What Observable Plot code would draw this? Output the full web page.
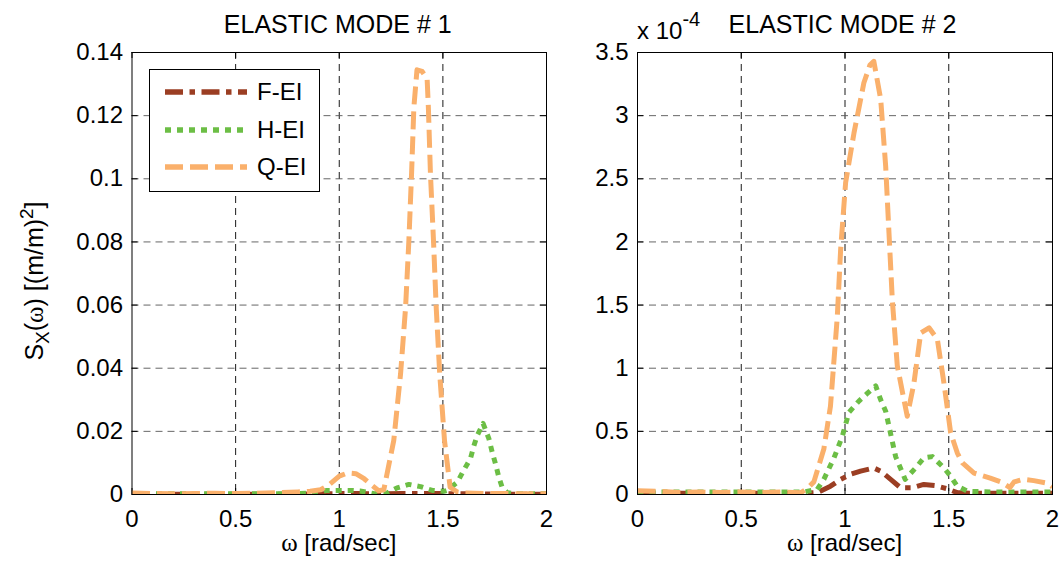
<!DOCTYPE html>
<html><head><meta charset="utf-8">
<script src="https://cdn.jsdelivr.net/npm/d3@7"></script>
<script src="https://cdn.jsdelivr.net/npm/@observablehq/plot@0.6"></script>
<style>
body{margin:0;background:#fff;}
#chart{position:relative;width:1062px;height:571px;overflow:hidden;background:#fff;}
#chart svg{position:absolute;top:0;max-width:none;}
</style></head><body><div id="chart"></div>
<script>
// ---------- data ----------
const seriesNames = ["F-EI", "H-EI", "Q-EI"];
const seriesColors = ["#9b3e23", "#6cbe45", "#fab06b"];
const seriesDashes = ["18,6.5,5.5,6.5", "6,6", "18,7"];

const xTicks = [0, 0.5, 1, 1.5, 2];
const xTickLabels = ["0", "0.5", "1", "1.5", "2"];
const y1Ticks = [0, 0.02, 0.04, 0.06, 0.08, 0.1, 0.12, 0.14];
const y1TickLabels = ["0", "0.02", "0.04", "0.06", "0.08", "0.1", "0.12", "0.14"];
const y2Ticks = [0, 0.5, 1, 1.5, 2, 2.5, 3, 3.5];
const y2TickLabels = ["0", "0.5", "1", "1.5", "2", "2.5", "3", "3.5"];
const titles = ["ELASTIC MODE # 1", "ELASTIC MODE # 2"];
const xLabel = "[rad/sec]";
const exponentText = ["x 10", "-4"];

// Mode 1 (S_X in (m/m)^2)
const m1F_w = [0, 0.2, 0.4, 0.6, 0.8, 0.9, 1.0, 1.1, 1.2, 1.3, 1.4, 1.5, 1.6, 1.7, 1.8, 1.9, 2.0];
const m1F_s = [0.0001, 0.0001, 0.0001, 0.0001, 0.0001, 0.0002, 0.0003, 0.0003, 0.0002, 0.0003, 0.0003, 0.0003, 0.0002, 0.0002, 0.0001, 0.0001, 0.0001];

const m1H_w = [0, 0.2, 0.4, 0.6, 0.8, 0.9, 0.94, 1.0, 1.054, 1.1, 1.166, 1.223, 1.279, 1.336, 1.392, 1.449, 1.505, 1.52, 1.57, 1.6, 1.633, 1.65, 1.666, 1.694, 1.722, 1.738, 1.754, 1.77, 1.786, 1.81, 1.85, 1.9, 2.0];
const m1H_s = [0.0002, 0.0002, 0.0002, 0.0002, 0.0003, 0.0006, 0.0013, 0.0013, 0.0013, 0.0011, 0.0003, 0.0002, 0.0021, 0.0032, 0.0025, 0.0013, 0.001, 0.0013, 0.0039, 0.0076, 0.0114, 0.0155, 0.0187, 0.0225, 0.0177, 0.0134, 0.0097, 0.0055, 0.0023, 0.0006, 0.0002, 0.0002, 0.0002];

const m1Q_w = [0, 0.1, 0.2, 0.3, 0.4, 0.5, 0.6, 0.7, 0.8, 0.86, 0.91, 0.95, 1.0, 1.04, 1.08, 1.12, 1.16, 1.19, 1.215, 1.263, 1.296, 1.32, 1.336, 1.349, 1.36, 1.375, 1.40, 1.424, 1.43, 1.44, 1.455, 1.468, 1.485, 1.508, 1.535, 1.57, 1.6, 1.7, 1.8, 1.9, 2.0];
const m1Q_s = [0.0005, 0.0003, 0.0002, 0.0003, 0.0004, 0.0003, 0.0004, 0.0006, 0.0008, 0.001, 0.0015, 0.003, 0.0058, 0.0068, 0.0066, 0.005, 0.0028, 0.0012, 0.0015, 0.0171, 0.0383, 0.0592, 0.0805, 0.1017, 0.1226, 0.1345, 0.134, 0.1317, 0.1227, 0.1016, 0.08, 0.059, 0.038, 0.017, 0.0023, 0.0008, 0.0005, 0.0003, 0.0003, 0.0002, 0.0002];

// Mode 2 (S_X in units of 1e-4 (m/m)^2)
const m2F_w = [0, 0.2, 0.4, 0.6, 0.8, 0.866, 0.93, 0.979, 1.027, 1.075, 1.139, 1.172, 1.22, 1.268, 1.324, 1.38, 1.436, 1.493, 1.541, 1.6, 1.7, 1.8, 1.9, 2.0];
const m2F_s = [0.01, 0.01, 0.01, 0.01, 0.01, 0.015, 0.066, 0.12, 0.16, 0.185, 0.21, 0.185, 0.12, 0.053, 0.053, 0.08, 0.07, 0.045, 0.015, 0.01, 0.01, 0.01, 0.01, 0.01];

const m2H_w = [0, 0.2, 0.4, 0.6, 0.8, 0.866, 0.898, 0.947, 0.987, 1.019, 1.067, 1.107, 1.148, 1.172, 1.196, 1.212, 1.244, 1.29, 1.34, 1.38, 1.421, 1.477, 1.509, 1.541, 1.59, 1.7, 1.8, 1.9, 2.0];
const m2H_s = [0.02, 0.02, 0.02, 0.02, 0.02, 0.04, 0.12, 0.29, 0.46, 0.65, 0.74, 0.8, 0.86, 0.75, 0.66, 0.54, 0.3, 0.12, 0.21, 0.29, 0.3, 0.21, 0.145, 0.066, 0.026, 0.02, 0.02, 0.02, 0.02];

const m2Q_w = [0, 0.1, 0.2, 0.3, 0.4, 0.5, 0.6, 0.7, 0.786, 0.82, 0.85, 0.898, 0.93, 0.963, 0.979, 1.003, 1.043, 1.091, 1.12, 1.139, 1.172, 1.196, 1.212, 1.228, 1.252, 1.284, 1.30, 1.332, 1.365, 1.405, 1.445, 1.477, 1.509, 1.541, 1.566, 1.622, 1.70, 1.75, 1.795, 1.815, 1.86, 1.91, 1.975, 2.0];
const m2Q_s = [0.03, 0.025, 0.015, 0.02, 0.015, 0.02, 0.015, 0.02, 0.013, 0.05, 0.1, 0.36, 0.7, 1.41, 1.94, 2.47, 2.86, 3.26, 3.4, 3.43, 3.13, 2.6, 2.07, 1.54, 1.02, 0.75, 0.62, 0.88, 1.28, 1.32, 1.23, 0.88, 0.49, 0.33, 0.25, 0.17, 0.13, 0.1, 0.055, 0.1, 0.12, 0.11, 0.09, 0.06];

// ---------- layout ----------
const H = 571, TOP = 52, BOTTOM = 494;
const FONT = "Liberation Sans, Arial, Helvetica, sans-serif";
const SERIF = "Liberation Serif, Times New Roman, serif";
const chart = document.getElementById("chart");

function rows(w, s) { return w.map((d, i) => ({w: d, s: s[i]})); }

function panel({width, marginLeft, marginRight, yDomain, yTicks, yLabels, data}) {
  const plotW = width - marginLeft - marginRight;
  const plotH = BOTTOM - TOP;
  const tx = 6 * (2 - 0) / plotW;                    // inward tick length in x units
  const ty = 6 * (yDomain[1] - yDomain[0]) / plotH;  // inward tick length in y units
  const xf = d => xTickLabels[xTicks.indexOf(d)];
  const yf = d => yLabels[yTicks.indexOf(d)];
  return Plot.plot({
    width, height: H, marginLeft, marginRight, marginTop: TOP, marginBottom: H - BOTTOM,
    style: {fontFamily: FONT, fontSize: "24px", color: "#000", background: "transparent", overflow: "visible"},
    x: {domain: [0, 2], label: null},
    y: {domain: yDomain, label: null},
    marks: [
      Plot.gridX(xTicks.slice(1, -1), {stroke: "#000", strokeOpacity: 0.9, strokeDasharray: "7,5"}),
      Plot.gridY(yTicks.slice(1, -1), {stroke: "#555", strokeOpacity: 0.9, strokeDasharray: "7,5"}),
      Plot.ruleY(yTicks, {y: d => d, x1: () => 0, x2: () => tx, stroke: "#000"}),
      Plot.ruleY(yTicks, {y: d => d, x1: () => 2 - tx, x2: () => 2, stroke: "#000"}),
      Plot.ruleX(xTicks, {x: d => d, y1: () => yDomain[0], y2: () => yDomain[0] + ty, stroke: "#000"}),
      Plot.ruleX(xTicks, {x: d => d, y1: () => yDomain[1] - ty, y2: () => yDomain[1], stroke: "#000"}),
      ...data.map((d, i) => Plot.line(d, {
        x: "w", y: "s", stroke: seriesColors[i], strokeWidth: 5,
        strokeDasharray: seriesDashes[i], strokeLinecap: "butt", strokeLinejoin: "round",
        curve: "linear", clip: true
      })),
      Plot.frame({stroke: "#000", strokeWidth: 1}),
      Plot.axisX(xTicks, {tickSize: 0, tickPadding: 15, tickFormat: xf, fontSize: 24}),
      Plot.axisY(yTicks, {tickSize: 0, tickPadding: 9, tickFormat: yf, fontSize: 24})
    ]
  });
}

// Left panel
const leftW = 556, leftML = 131.5, leftMR = 10;
const left = panel({
  width: leftW, marginLeft: leftML, marginRight: leftMR,
  yDomain: [0, 0.14], yTicks: y1Ticks, yLabels: y1TickLabels,
  data: [rows(m1F_w, m1F_s), rows(m1H_w, m1H_s), rows(m1Q_w, m1Q_s)]
});
left.style.left = "0px";
chart.appendChild(left);

// Right panel
const rightX = 556, rightW = 1062 - rightX, rightML = 637 - rightX, rightMR = 10;
const right = panel({
  width: rightW, marginLeft: rightML, marginRight: rightMR,
  yDomain: [0, 3.5], yTicks: y2Ticks, yLabels: y2TickLabels,
  data: [rows(m2F_w, m2F_s), rows(m2H_w, m2H_s), rows(m2Q_w, m2Q_s)]
});
right.style.left = rightX + "px";
chart.appendChild(right);

// ---------- annotations ----------
function addTitle(svg, cx, text) {
  d3.select(svg).append("text").attr("x", cx).attr("y", 33).attr("text-anchor", "middle")
    .attr("font-family", FONT).attr("font-size", 25).attr("fill", "#000").text(text);
}
function addXLabel(svg, cx) {
  const t = d3.select(svg).append("text").attr("x", cx).attr("y", 551).attr("text-anchor", "middle")
    .attr("font-family", FONT).attr("font-size", 24).attr("fill", "#000");
  t.append("tspan").attr("font-family", SERIF).attr("font-size", 25).text("ω");
  t.append("tspan").text(" " + xLabel);
}
const leftCx = leftML + (leftW - leftML - leftMR) / 2;
const rightCx = rightML + (rightW - rightML - rightMR) / 2;
addTitle(left, leftCx - 1, titles[0]);
addTitle(right, rightCx - 2, titles[1]);
addXLabel(left, leftCx);
addXLabel(right, rightCx);

// exponent label
{
  const t = d3.select(right).append("text").attr("x", rightML).attr("y", 39).attr("text-anchor", "start")
    .attr("font-family", FONT).attr("font-size", 24).attr("fill", "#000");
  t.append("tspan").text(exponentText[0]);
  t.append("tspan").attr("dy", -13).attr("font-size", 20).text(exponentText[1]);
}

// y label
{
  const t = d3.select(left).append("text").attr("transform", `translate(43,${(TOP + BOTTOM) / 2 + 8}) rotate(-90)`)
    .attr("text-anchor", "middle").attr("font-family", FONT).attr("font-size", 25).attr("fill", "#000");
  t.append("tspan").text("S");
  t.append("tspan").attr("font-size", 19).attr("dy", 6).text("X");
  t.append("tspan").attr("dy", -6).text("(");
  t.append("tspan").attr("font-family", SERIF).text("ω");
  t.append("tspan").text(") [(m/m)");
  t.append("tspan").attr("font-size", 19).attr("dy", -10).text("2");
  t.append("tspan").attr("dy", 10).text("]");
}

// legend
{
  const g = d3.select(left).append("g");
  g.append("rect").attr("x", 149.5).attr("y", 69.5).attr("width", 170).attr("height", 122)
    .attr("fill", "#fff").attr("stroke", "#000");
  const ys = [92, 130, 167];
  seriesNames.forEach((name, i) => {
    g.append("line").attr("x1", 165).attr("x2", 247).attr("y1", ys[i]).attr("y2", ys[i])
      .attr("stroke", seriesColors[i]).attr("stroke-width", 5.5).attr("stroke-dasharray", seriesDashes[i]);
    g.append("text").attr("x", 257).attr("y", ys[i]).attr("dy", "0.35em").attr("text-anchor", "start")
      .attr("font-family", FONT).attr("font-size", 24).attr("fill", "#000").text(name);
  });
}
</script></body></html>
